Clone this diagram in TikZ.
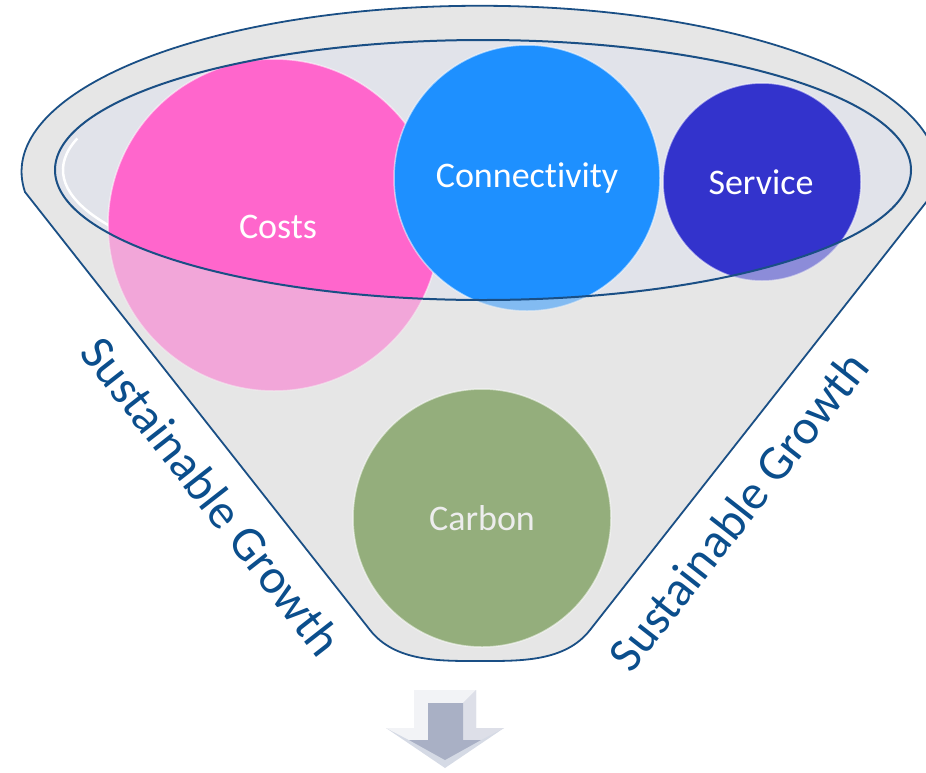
\documentclass[tikz,border=0pt]{standalone}
\usepackage{fontspec}
\setmainfont{Carlito}[Ligatures={NoCommon,NoContextual}]

\definecolor{rimblue}{HTML}{1A4F85}
\definecolor{funnelgray}{HTML}{E6E6E6}
\definecolor{rimfill}{HTML}{E1E3EA}
\definecolor{costpink}{HTML}{FF66CC}
\definecolor{connblue}{HTML}{1E90FF}
\definecolor{servblue}{HTML}{3333CC}
\definecolor{carbgreen}{HTML}{94AE7C}
\definecolor{labelblue}{HTML}{0B4E8C}
\definecolor{arrowgray}{HTML}{A9B0C5}
\definecolor{arrowlight}{HTML}{D5DAE5}

\tikzset{
	bubble/.style={circle, inner sep=0pt, draw=white, draw opacity=0.55, line width=1.5pt,
		text=white, font=\fontsize{36}{40}\selectfont},
	bubbletext/.style={text=white, font=\fontsize{36}{40}\selectfont},
	growth/.style={text=labelblue, font=\fontsize{49}{54}\selectfont, inner sep=0pt},
}

\begin{document}
\begin{tikzpicture}[x=1pt,y=-1pt]
		\useasboundingbox (0,0) rectangle (926,772);
		% funnel body
		\fill[funnelgray] (25,192) arc[start angle=173,end angle=367,x radius=458,y radius=166] -- (590,630) .. controls (565,662) and (520,661) .. (480,661) .. controls (440,661) and (395,662) .. (370,630) -- cycle;
		% rim
		\fill[rimfill] (483,170) ellipse [x radius=428, y radius=130];
		\draw[white, line width=2.5pt] (483,170) ++(120:420 and 122) arc[start angle=120,end angle=195,x radius=420,y radius=122];
		
		% the three bubbles in the rim
		\node[bubble, fill=costpink, minimum size=332pt] (costs) at (274,225) {};
		\node[bubble, fill=connblue, minimum size=266pt] (conn) at (527,178) {};
		\node[bubble, fill=servblue, minimum size=198pt] (service) at (762,182) {};
		
		% front of the funnel over the lower parts
		\begin{scope}
			\clip (0,170) rectangle (926,772);
			\fill[funnelgray, opacity=0.5, even odd rule] (25,192) arc[start angle=173,end angle=367,x radius=458,y radius=166] -- (590,630) .. controls (565,662) and (520,661) .. (480,661) .. controls (440,661) and (395,662) .. (370,630) -- cycle (483,170) ellipse [x radius=428, y radius=130];
		\end{scope}
		\draw[rimblue, line width=1.8pt] (25,192) arc[start angle=173,end angle=367,x radius=458,y radius=166] -- (590,630) .. controls (565,662) and (520,661) .. (480,661) .. controls (440,661) and (395,662) .. (370,630) -- cycle;
		\draw[rimblue, line width=2pt] (483,170) ellipse [x radius=428, y radius=130];
		
		\node[bubbletext] at (278,227) {Costs};
		\node[bubbletext] at (527,178) {Connectivity};
		\node[bubbletext] at (761,182) {Service};
		
		\node[bubble, fill=carbgreen, minimum size=258pt, text=white!93!black] (carbon) at (482,518) {Carbon};
		
		\node[growth, rotate=-52] (growthl) at (212,496) {Sustainable Growth};
		\node[growth, rotate=52] (growthr) at (738,511) {Sustainable Growth};
		
		% arrow below the funnel
		\fill[arrowlight] (414,690) -- (476,690) -- (476,728) -- (504,728) -- (445,768) -- (386,728) -- (414,728) -- cycle;
		\fill[white!85!arrowgray] (414,690) -- (476,690) -- (463,703) -- (428,703) -- (428,740) -- (409,740) -- (386,728) -- (414,728) -- cycle;
		\fill[white!60!arrowgray] (476,690) -- (476,728) -- (504,728) -- (481,740) -- (463,740) -- (463,703) -- cycle;
		\fill[arrowgray] (428,703) -- (463,703) -- (463,740) -- (481,740) -- (445,760) -- (409,740) -- (428,740) -- cycle;
	\end{tikzpicture}
\end{document}
